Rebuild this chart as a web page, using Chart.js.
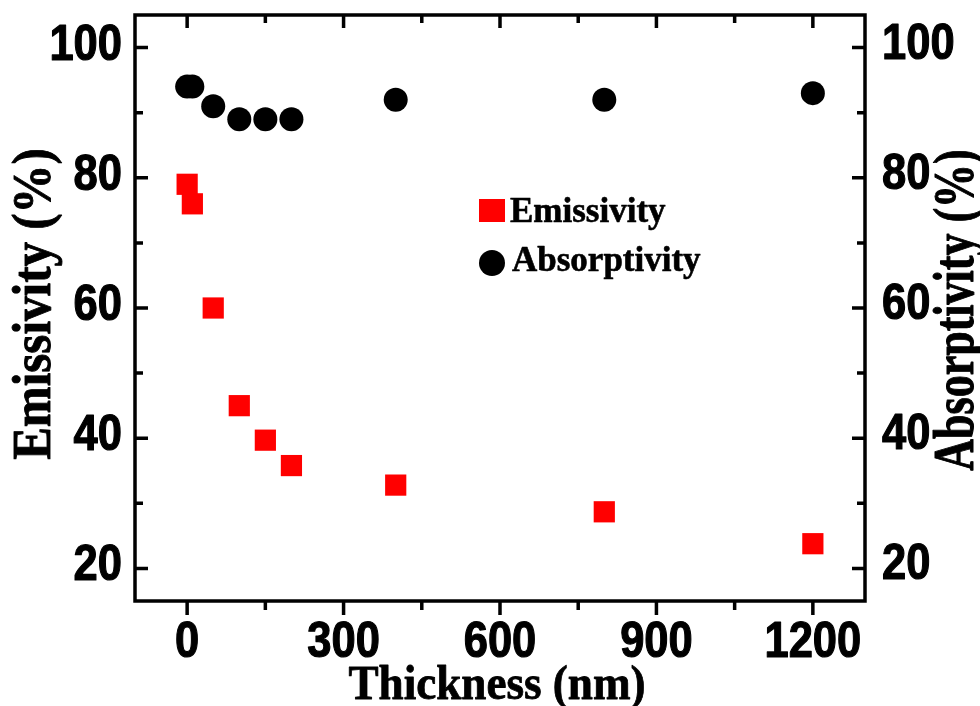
<!DOCTYPE html>
<html>
<head>
<meta charset="utf-8">
<script src="https://cdn.jsdelivr.net/npm/chart.js@4.4.1/dist/chart.umd.min.js"></script>
<style>
  html, body { margin: 0; padding: 0; background: #fff; }
</style>
</head>
<body>
<canvas id="chart" width="980" height="706"></canvas>
<script>
// values
const thickness = [0, 10, 50, 100, 150, 200, 400, 800, 1200];
const emissivity = [79, 76, 60, 45, 39.7, 35.8, 32.8, 28.7, 23.8];
const absorptivity = [94, 94, 91, 89, 89, 89, 92, 92, 93];

const xMajorTicks = [0, 300, 600, 900, 1200];
const xMinorTicks = [150, 450, 750, 1050];
const yMajorTicks = [20, 40, 60, 80, 100];
const yMinorTicks = [30, 50, 70, 90];

const xTitle = 'Thickness (nm)';
const yTitle = 'Emissivity (%)';
const y2Title = 'Absorptivity (%)';
const seriesNames = ['Emissivity', 'Absorptivity'];

const tickFont = 'bold 50px "Liberation Sans", Arial, sans-serif';
const serif = '"Liberation Serif", "Times New Roman", serif';

function drawText(ctx, s, x, y, font, align, sx, sy, rot, stroke) {
    ctx.save();
    ctx.translate(x, y);
    if (rot) ctx.rotate(rot);
    ctx.scale(sx, sy);
    ctx.font = font;
    ctx.textAlign = align;
    ctx.textBaseline = 'alphabetic';
    ctx.fillStyle = '#000';
    ctx.fillText(s, 0, 0);
    if (stroke) {
        ctx.strokeStyle = '#000';
        ctx.lineWidth = stroke;
        ctx.lineJoin = 'round';
        ctx.strokeText(s, 0, 0);
    }
    ctx.restore();
}

// frame, inward/outward ticks, labels, titles and the legend
const framePlugin = {
    id: 'frame',
    afterDraw(chart) {
        const ctx = chart.ctx;
        const a = chart.chartArea;
        const xs = chart.scales.x, ys = chart.scales.y, ys2 = chart.scales.y2;
        ctx.save();
        ctx.strokeStyle = '#000';
        ctx.lineWidth = 3.5;
        ctx.lineCap = 'butt';
        ctx.strokeRect(a.left, a.top, a.right - a.left, a.bottom - a.top);

        ctx.beginPath();
        xMajorTicks.forEach(v => {
            const px = xs.getPixelForValue(v);
            ctx.moveTo(px, a.bottom); ctx.lineTo(px, a.bottom + 14);
            ctx.moveTo(px, a.top); ctx.lineTo(px, a.top + 13);
        });
        xMinorTicks.forEach(v => {
            const px = xs.getPixelForValue(v);
            ctx.moveTo(px, a.bottom); ctx.lineTo(px, a.bottom + 9);
            ctx.moveTo(px, a.top); ctx.lineTo(px, a.top + 8);
        });
        yMajorTicks.forEach(v => {
            const py = ys.getPixelForValue(v);
            ctx.moveTo(a.left, py); ctx.lineTo(a.left + 13, py);
            const py2 = ys2.getPixelForValue(v);
            ctx.moveTo(a.right, py2); ctx.lineTo(a.right - 13, py2);
        });
        yMinorTicks.forEach(v => {
            const py = ys.getPixelForValue(v);
            ctx.moveTo(a.left, py); ctx.lineTo(a.left + 8, py);
            const py2 = ys2.getPixelForValue(v);
            ctx.moveTo(a.right, py2); ctx.lineTo(a.right - 8, py2);
        });
        ctx.stroke();
        ctx.restore();

        xMajorTicks.forEach(v => {
            drawText(ctx, String(v), xs.getPixelForValue(v), a.bottom + 56, tickFont, 'center', 0.87, 1, 0, 1.2);
        });
        yMajorTicks.forEach(v => {
            drawText(ctx, String(v), a.left - 13, ys.getPixelForValue(v) + 12, tickFont, 'right', 0.87, 1, 0, 1.2);
            drawText(ctx, String(v), a.right + 17, ys2.getPixelForValue(v) + 11, tickFont, 'left', 0.87, 1, 0, 1.2);
        });

        drawText(ctx, xTitle, 497, 699, 'bold 48px ' + serif, 'center', 0.94, 1, 0, 0.8);
        drawText(ctx, yTitle, 50, 304, 'bold 49px ' + serif, 'center', 1, 1.14, -Math.PI / 2, 0.8);
        drawText(ctx, y2Title, 973, 310, 'bold 44px ' + serif, 'center', 1, 1.3, -Math.PI / 2, 0.8);

        // legend
        ctx.save();
        ctx.fillStyle = '#ff0000';
        ctx.fillRect(479, 199, 26, 23);
        ctx.fillStyle = '#000';
        ctx.beginPath();
        ctx.arc(492, 263, 13, 0, Math.PI * 2);
        ctx.fill();
        ctx.restore();
        drawText(ctx, seriesNames[0], 510, 222, 'bold 35px ' + serif, 'left', 1, 1, 0, 0.6);
        drawText(ctx, seriesNames[1], 512, 271, 'bold 35px ' + serif, 'left', 1, 1, 0, 0.6);
    }
};

const ctx = document.getElementById('chart').getContext('2d');
new Chart(ctx, {
    type: 'scatter',
    data: {
        datasets: [{
            label: seriesNames[0],
            data: thickness.map((t, i) => ({ x: t, y: emissivity[i] })),
            yAxisID: 'y',
            pointStyle: 'rect',
            pointRadius: 15,
            pointHoverRadius: 15,
            backgroundColor: '#ff0000',
            borderWidth: 0
        }, {
            label: seriesNames[1],
            data: thickness.map((t, i) => ({ x: t, y: absorptivity[i] })),
            yAxisID: 'y2',
            pointStyle: 'circle',
            pointRadius: 12,
            pointHoverRadius: 12,
            backgroundColor: '#000000',
            borderWidth: 0
        }]
    },
    options: {
        responsive: false,
        animation: false,
        devicePixelRatio: 1,
        layout: { padding: { left: 135, right: 115, top: 11, bottom: 105 } },
        plugins: {
            legend: { display: false },
            tooltip: { enabled: false }
        },
        scales: {
            x: { type: 'linear', min: -100, max: 1300, display: false },
            y: { type: 'linear', min: 15, max: 105, display: false },
            y2: { type: 'linear', position: 'right', min: 15, max: 105, display: false }
        }
    },
    plugins: [framePlugin]
});
</script>
</body>
</html>
